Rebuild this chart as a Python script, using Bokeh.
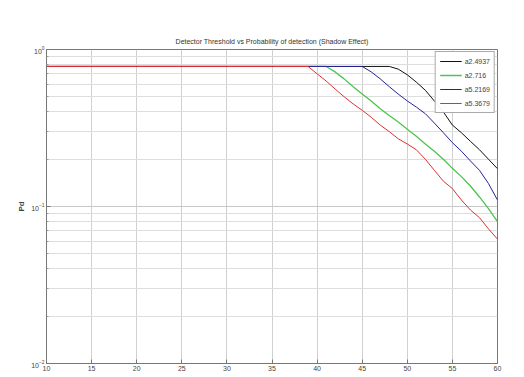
from bokeh.plotting import figure
from bokeh.models import FixedTicker, Legend, LegendItem, Range1d
from bokeh.embed import file_html
from bokeh.resources import INLINE

title = "Detector Threshold vs Probability of detection (Shadow Effect)"
labels = ["a2.4937", "a2.716", "a5.2169", "a5.3679"]
colors = ["#111111", "#4cc44c", "#22229a", "#e03030"]

# black (top curve)
x_k = [10, 48, 49, 50, 51, 52, 53, 54, 55, 56, 57, 58, 59, 60]
y_k = [0.78, 0.78, 0.75, 0.69, 0.62, 0.55, 0.47, 0.40, 0.33, 0.295, 0.26, 0.23, 0.20, 0.174]
# green
x_g = [10, 41, 42, 43, 44, 45, 46, 47, 48, 49, 50, 51, 52, 53, 54, 55, 56, 57, 58, 59, 60]
y_g = [0.78, 0.78, 0.72, 0.65, 0.58, 0.52, 0.47, 0.42, 0.38, 0.345, 0.31, 0.28, 0.25, 0.225,
       0.20, 0.175, 0.155, 0.135, 0.115, 0.097, 0.08]
# blue
x_b = [10, 45, 46, 47, 48, 49, 50, 51, 52, 53, 54, 55, 56, 57, 58, 59, 60]
y_b = [0.78, 0.78, 0.72, 0.65, 0.58, 0.52, 0.47, 0.43, 0.39, 0.34, 0.295, 0.255, 0.225,
       0.195, 0.17, 0.14, 0.11]
# red (bottom curve)
x_r = [10, 39, 40, 41, 42, 43, 44, 45, 46, 47, 48, 49, 50, 51, 52, 53, 54, 55, 56, 57, 58, 59, 60]
y_r = [0.78, 0.78, 0.70, 0.63, 0.56, 0.50, 0.45, 0.41, 0.37, 0.33, 0.30, 0.27, 0.25, 0.23,
       0.20, 0.17, 0.145, 0.13, 0.11, 0.095, 0.085, 0.072, 0.062]

x_ticks = [10, 15, 20, 25, 30, 35, 40, 45, 50, 55, 60]
y_ticks = [0.01, 0.1, 1.0]
y_minor = [0.02, 0.03, 0.04, 0.05, 0.06, 0.07, 0.08, 0.09,
           0.2, 0.3, 0.4, 0.5, 0.6, 0.7, 0.8, 0.9]

p = figure(width=524, height=377, y_axis_type="log", output_backend="svg",
           toolbar_location=None, x_range=Range1d(10, 60), y_range=Range1d(0.01, 1.0),
           min_border_left=46, min_border_right=27, min_border_top=49, min_border_bottom=14)
p.title.text = title
p.title.text_font = "Liberation Sans"
p.title.text_font_size = "7px"
p.title.text_font_style = "normal"
p.title.align = "center"
p.title.text_color = "#333333"
p.title.offset = 0
p.title.standoff = 10

p.outline_line_color = "#777777"
p.outline_line_width = 1
p.background_fill_color = "white"
p.border_fill_color = "white"

p.xaxis.ticker = FixedTicker(ticks=x_ticks)
p.yaxis.ticker = FixedTicker(ticks=y_ticks, minor_ticks=y_minor)
for ax in [p.xaxis[0], p.yaxis[0]]:
    ax.major_label_text_font = "Liberation Sans"
    ax.major_label_text_font_size = "7px"
    ax.major_label_text_color = "#444444"
    ax.axis_line_color = "#777777"
    ax.major_tick_line_color = "#777777"
    ax.minor_tick_line_color = "#999999"
    ax.major_tick_in = 4
    ax.major_tick_out = 0
    ax.minor_tick_in = 2
    ax.minor_tick_out = 0
    ax.major_label_standoff = 2
p.yaxis.axis_label = "Pd"
p.yaxis.axis_label_text_font = "Liberation Sans"
p.yaxis.axis_label_text_font_size = "8px"
p.yaxis.axis_label_text_font_style = "bold"
p.yaxis.axis_label_standoff = 2

p.xgrid.grid_line_color = "#d0d0d0"
p.ygrid.grid_line_color = "#c8c8c8"
p.ygrid.minor_grid_line_color = "#dddddd"

r_k = p.line(x_k, y_k, line_color=colors[0], line_width=1)
r_g = p.line(x_g, y_g, line_color=colors[1], line_width=1.3)
r_b = p.line(x_b, y_b, line_color=colors[2], line_width=1)
r_r = p.line(x_r, y_r, line_color=colors[3], line_width=1)

legend = Legend(items=[LegendItem(label=labels[0], renderers=[r_k]),
                       LegendItem(label=labels[1], renderers=[r_g]),
                       LegendItem(label=labels[2], renderers=[r_b]),
                       LegendItem(label=labels[3], renderers=[r_r])],
                location="top_right")
legend.label_text_font = "Liberation Sans"
legend.label_text_font_size = "7px"
legend.label_height = 10
legend.glyph_height = 10
legend.glyph_width = 22
legend.spacing = 4
legend.padding = 4
legend.margin = 2
legend.border_line_color = "#555555"
legend.label_standoff = 3
p.add_layout(legend)

open("out.html", "w").write(file_html(p, INLINE))
